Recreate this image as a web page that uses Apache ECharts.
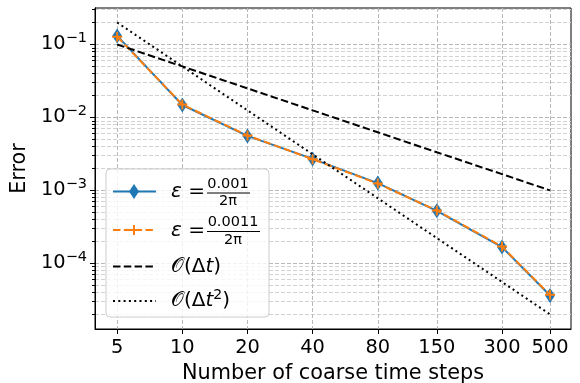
<!DOCTYPE html>
<html>
<head>
<meta charset="utf-8">
<script src="https://cdn.jsdelivr.net/npm/echarts@6/dist/echarts.min.js"></script>
<style>html,body{margin:0;padding:0;background:#fff}#chart{width:580px;height:383px}</style>
</head>
<body>
<div id="chart"></div>
<script>
// coarse time steps and the errors
const steps = [5, 10, 20, 40, 80, 150, 300, 500];
const errEps1 = [0.131, 0.0148, 0.00558, 0.0027, 0.00126, 0.000524, 0.000167, 0.0000362];
const errEps2 = [0.128, 0.0150, 0.00565, 0.00268, 0.00124, 0.000530, 0.000170, 0.0000370];
const orderDt = [0.1, 0.05, 0.025, 0.0125, 0.00625, 0.00333, 0.00167, 0.001];
const orderDt2 = [0.2, 0.05, 0.0125, 0.003125, 0.000781, 0.000222, 0.0000556, 0.00002];
const yMajor = [1e-4, 1e-3, 1e-2, 1e-1];
const yMinor = [];
[1e-5, 1e-4, 1e-3, 1e-2, 1e-1].forEach(d => {
  for (let k = 2; k <= 9; k++) {
    const v = k * d;
    if (v > 1.26e-5 && v < 0.316) yMinor.push(v);
  }
});

const FONT = 'DejaVu Sans';
const pairs = arr => steps.map((s, i) => [s, arr[i]]);
const plusPath = 'path://M0,5L10,5M5,0L5,10';

const chart = echarts.init(document.getElementById('chart'));

const yBase = {
  type: 'log',
  min: 1.26e-5,
  max: 0.316,
  position: 'left',
  axisLine: {show: true, lineStyle: {color: '#000', width: 1}},
  minorTick: {show: false}
};

const italic = {fontStyle: 'italic', fontFamily: FONT, fontSize: 20};
const legendText = (x, y, text, rich) => ({
  type: 'text', x: x, y: y, z: 101,
  style: {text: text, rich: rich || {i: italic}, font: '20px "DejaVu Sans"', fill: '#000', verticalAlign: 'middle'}
});
const smallText = (x, y, text) => ({
  type: 'text', x: x, y: y, z: 101,
  style: {text: text, font: '14.5px "DejaVu Sans"', fill: '#000', align: 'center', verticalAlign: 'middle'}
});

let options = {
  animation: false,
  grid: {left: 95, right: 9, top: 8, bottom: 54, outerBoundsMode: 'none', containLabel: false,
    show: true, borderColor: '#000', borderWidth: 1},
  xAxis: {
    type: 'log',
    min: 3.95,
    max: 625,
    name: 'Number of coarse time steps',
    nameLocation: 'middle',
    nameGap: 34,
    nameTextStyle: {fontFamily: FONT, fontSize: 20.8, color: '#000'},
    axisLine: {lineStyle: {color: '#000', width: 1}},
    axisTick: {customValues: steps, length: 5, lineStyle: {color: '#000'}},
    axisLabel: {customValues: steps, margin: 9, fontFamily: FONT, fontSize: 19.4, color: '#000'},
    splitLine: {show: true, lineStyle: {color: '#b8b8b8', type: [4, 2], width: 1}},
    minorTick: {show: false}
  },
  yAxis: [
    Object.assign({}, yBase, {
      name: 'Error',
      nameLocation: 'middle',
      nameGap: 51,
      nameTextStyle: {fontFamily: FONT, fontSize: 20.8, color: '#000'},
      axisTick: {customValues: yMajor, length: 5, lineStyle: {color: '#000'}},
      axisLabel: {
        customValues: yMajor,
        margin: 8,
        color: '#000',
        formatter: v => '{b|10}{s|−' + Math.abs(Math.round(Math.log10(v))) + '}',
        rich: {
          b: {fontFamily: FONT, fontSize: 19.4, color: '#000'},
          s: {fontFamily: FONT, fontSize: 14.5, color: '#000', padding: [0, 0, 12, 0]}
        }
      },
      splitLine: {show: true, lineStyle: {color: '#b8b8b8', type: [4, 2], width: 1}}
    }),
    Object.assign({}, yBase, {
      axisTick: {customValues: yMinor, length: 3, lineStyle: {color: '#000'}},
      axisLabel: {show: false},
      splitLine: {show: true, lineStyle: {color: '#d2d2d2', type: [4, 2], width: 1}}
    })
  ],
  series: [
    {
      type: 'line',
      name: 'eps1',
      data: pairs(errEps1),
      symbol: 'diamond',
      symbolSize: [10, 15],
      lineStyle: {color: '#1f77b4', width: 2},
      itemStyle: {color: '#1f77b4'},
      z: 3
    },
    {
      type: 'line',
      name: 'eps2',
      data: pairs(errEps2),
      symbol: plusPath,
      symbolSize: 10,
      lineStyle: {color: '#ff7f0e', width: 2, type: [7.5, 3.3]},
      itemStyle: {color: '#ff7f0e', borderColor: '#ff7f0e', borderWidth: 2},
      z: 4
    },
    {
      type: 'line',
      name: 'dt',
      data: pairs(orderDt),
      symbol: 'none',
      lineStyle: {color: '#000', width: 2, type: [7.5, 3.3]},
      z: 5
    },
    {
      type: 'line',
      name: 'dt2',
      data: pairs(orderDt2),
      symbol: 'none',
      lineStyle: {color: '#000', width: 2, type: [2, 3.3]},
      z: 6
    }
  ],
  graphic: [
    {type: 'rect', shape: {x: 106, y: 169, width: 163, height: 148, r: 4},
      style: {fill: 'rgba(255,255,255,0.8)', stroke: '#cccccc', lineWidth: 1}, z: 100},
    // entry 1
    {type: 'line', shape: {x1: 113, y1: 191.5, x2: 156, y2: 191.5}, style: {stroke: '#1f77b4', lineWidth: 2}, z: 101},
    {type: 'polygon', shape: {points: [[134, 184], [139, 191.5], [134, 199], [129, 191.5]]}, style: {fill: '#1f77b4'}, z: 101},
    legendText(171, 192, '{i|ε} ='),
    smallText(228, 184, '0.001'),
    {type: 'line', shape: {x1: 207, y1: 193, x2: 250, y2: 193}, style: {stroke: '#000', lineWidth: 1}, z: 101},
    smallText(228, 201, '2π'),
    // entry 2
    {type: 'line', shape: {x1: 113, y1: 230, x2: 156, y2: 230}, style: {stroke: '#ff7f0e', lineWidth: 2, lineDash: [7.5, 3.3]}, z: 101},
    {type: 'line', shape: {x1: 129, y1: 230, x2: 139, y2: 230}, style: {stroke: '#ff7f0e', lineWidth: 2}, z: 101},
    {type: 'line', shape: {x1: 134, y1: 225, x2: 134, y2: 235}, style: {stroke: '#ff7f0e', lineWidth: 2}, z: 101},
    legendText(171, 230.5, '{i|ε} ='),
    smallText(233, 222.5, '0.0011'),
    {type: 'line', shape: {x1: 207, y1: 231.5, x2: 260, y2: 231.5}, style: {stroke: '#000', lineWidth: 1}, z: 101},
    smallText(233, 240, '2π'),
    // entry 3
    {type: 'line', shape: {x1: 113, y1: 266.5, x2: 156, y2: 266.5}, style: {stroke: '#000', lineWidth: 2, lineDash: [7.5, 3.3]}, z: 101},
    legendText(171, 266.5, '𝒪(Δ{i|t})'),
    // entry 4
    {type: 'line', shape: {x1: 113, y1: 301, x2: 156, y2: 301}, style: {stroke: '#000', lineWidth: 2, lineDash: [2, 3.3]}, z: 101},
    legendText(171, 301, '𝒪(Δ{i|t}{s|2})', {i: italic, s: {fontFamily: FONT, fontSize: 14, padding: [0, 0, 11, 0]}})
  ]
};

chart.setOption(options);
</script>
</body>
</html>
